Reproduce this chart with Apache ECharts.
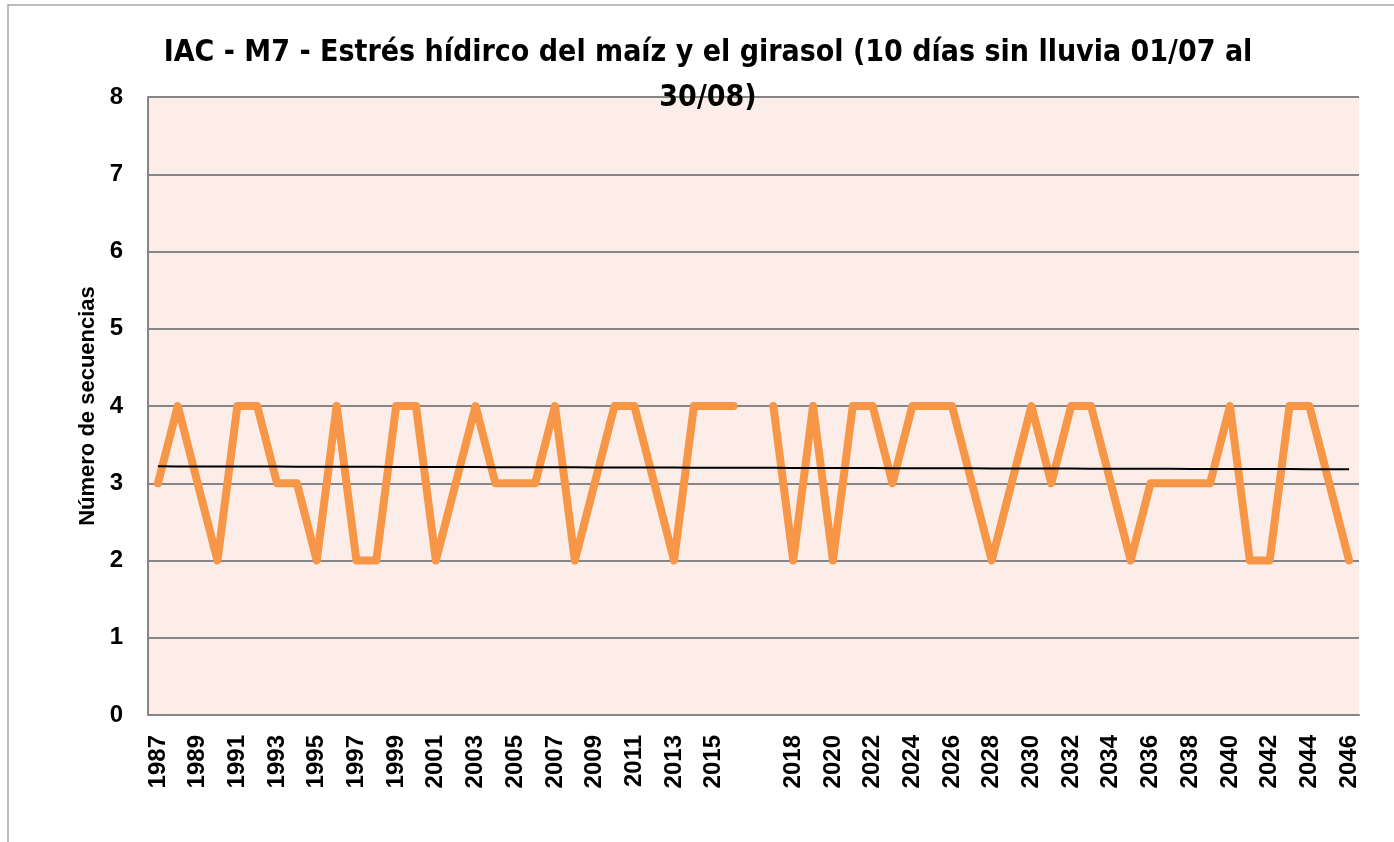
<!DOCTYPE html>
<html>
<head>
<meta charset="utf-8">
<script src="https://cdn.jsdelivr.net/npm/echarts@6/dist/echarts.min.js"></script>
<style>
  html, body { margin: 0; padding: 0; background: #fff; }
  #chart { width: 1394px; height: 842px; }
</style>
</head>
<body>
<div id="chart"></div>
<script>
// years, with one empty category between 2016 and 2017 (gap in the series)
var years = ['1987','1988','1989','1990','1991','1992','1993','1994','1995','1996',
    '1997','1998','1999','2000','2001','2002','2003','2004','2005','2006',
    '2007','2008','2009','2010','2011','2012','2013','2014','2015','2016',
    '',
    '2017','2018','2019','2020','2021','2022','2023','2024','2025','2026',
    '2027','2028','2029','2030','2031','2032','2033','2034','2035','2036',
    '2037','2038','2039','2040','2041','2042','2043','2044','2045','2046'];

var secuencias = [3,4,3,2,4,4,3,3,2,4,
    2,2,4,4,2,3,4,3,3,3,
    4,2,3,4,4,3,2,4,4,4,
    null,
    4,2,4,2,4,4,3,4,4,4,
    3,2,3,4,3,4,4,3,2,3,
    3,3,3,4,2,2,4,4,3,2];

var yTicks = [0, 1, 2, 3, 4, 5, 6, 7, 8];

// linear trend (least squares over category index, blanks skipped)
var sx = 0, sy = 0, sxx = 0, sxy = 0, n = 0;
secuencias.forEach(function (v, i) {
    if (v === null) return;
    sx += i; sy += v; sxx += i * i; sxy += i * v; n++;
});
var slope = (n * sxy - sx * sy) / (n * sxx - sx * sx);
var icpt = (sy - slope * sx) / n;
var tendencia = secuencias.map(function (v, i) { return icpt + slope * i; });

var myChart = echarts.init(document.getElementById('chart'));

var option = {
    backgroundColor: '#ffffff',
    animation: false,
    graphic: [
        {
            type: 'rect',
            shape: { x: 8, y: 5, width: 1500, height: 1000 },
            style: { fill: 'none', stroke: '#a6a6a6', lineWidth: 1.5 },
            z: -1
        },
        {
            type: 'text',
            x: 708,
            y: 31,
            style: {
                text: 'IAC - M7 - Estrés hídirco del maíz y el girasol (10 días sin lluvia 01/07 al\n30/08)',
                align: 'center',
                verticalAlign: 'top',
                font: 'bold 30px "DejaVu Sans Condensed", "Liberation Sans", sans-serif',
                lineHeight: 45,
                fill: '#000'
            },
            z: 100
        }
    ],
    grid: {
        left: 148,
        top: 97,
        right: 35,
        bottom: 127,
        show: true,
        backgroundColor: '#fcede8',
        borderWidth: 0
    },
    xAxis: {
        type: 'category',
        data: years,
        boundaryGap: true,
        axisLine: { lineStyle: { color: '#868686', width: 2 } },
        axisTick: { show: false },
        axisLabel: {
            interval: 1,
            rotate: 90,
            margin: 20,
            color: '#000',
            fontWeight: 'bold',
            fontSize: 24,
            fontFamily: 'Liberation Sans'
        }
    },
    yAxis: {
        type: 'value',
        min: yTicks[0],
        max: yTicks[yTicks.length - 1],
        interval: 1,
        name: 'Número de secuencias',
        nameLocation: 'middle',
        nameGap: 49,
        nameRotate: 90,
        nameTextStyle: {
            color: '#000',
            fontWeight: 'bold',
            fontSize: 22,
            fontFamily: 'Liberation Sans'
        },
        axisLine: { show: true, lineStyle: { color: '#868686', width: 2 } },
        axisTick: { show: false },
        splitLine: { lineStyle: { color: '#868686', width: 2 } },
        axisLabel: {
            margin: 25,
            color: '#000',
            fontWeight: 'bold',
            fontSize: 24,
            fontFamily: 'Liberation Sans'
        }
    },
    series: [
        {
            name: 'Secuencias',
            type: 'line',
            data: secuencias,
            showSymbol: false,
            connectNulls: false,
            lineStyle: { color: '#f79646', width: 8, cap: 'round', join: 'round' },
            itemStyle: { color: '#f79646' },
            z: 3
        },
        {
            name: 'Tendencia',
            type: 'line',
            data: tendencia,
            showSymbol: false,
            lineStyle: { color: '#000', width: 2 },
            z: 4
        }
    ]
};

myChart.setOption(option);
</script>
</body>
</html>
